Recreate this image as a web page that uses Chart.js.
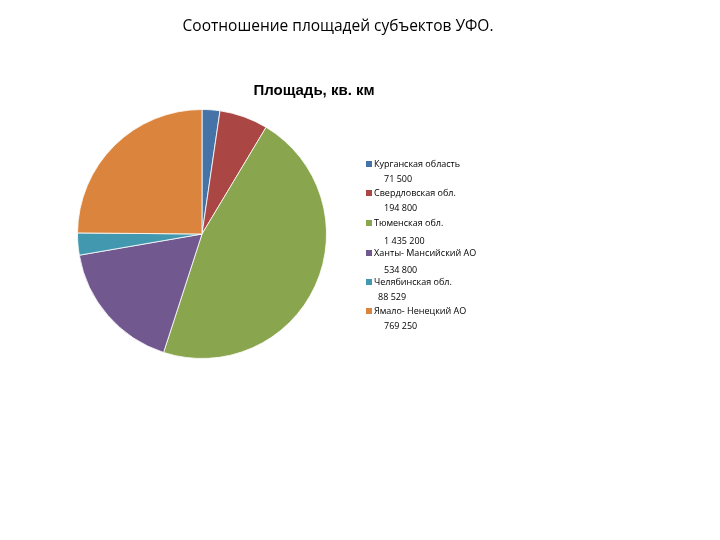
<!DOCTYPE html>
<html>
<head>
<meta charset="utf-8">
<script src="https://cdn.jsdelivr.net/npm/chart.js@4/dist/chart.umd.min.js"></script>
<style>
html, body { margin: 0; padding: 0; background: #fff; }
#wrap { position: relative; width: 720px; height: 540px; }
</style>
</head>
<body>
<div id="wrap"><canvas id="pie" width="720" height="540"></canvas></div>
<script>
// Data
const regions = ["Курганская область", "Свердловская обл.", "Тюменская обл.", "Ханты- Мансийский АО", "Челябинская обл.", "Ямало- Ненецкий АО"];
const areas = [71500, 194800, 1435200, 534800, 88529, 769250];
const areaLabels = ["71 500", "194 800", "1 435 200", "534 800", "88 529", "769 250"];
const colors = ["#4572A7", "#AA4643", "#89A54E", "#71588F", "#4198AF", "#DB843D"];
const pageTitle = "Соотношение площадей субъектов УФО.";
const chartTitle = "Площадь, кв. км";

// titles + legend drawn by hand (legend has the value on a second line)
const decor = {
    id: "decor",
    afterDraw(chart) {
        const ctx = chart.ctx;
        ctx.save();
        ctx.fillStyle = "#000";
        ctx.textBaseline = "middle";
        ctx.textAlign = "center";
        ctx.font = "15.5px 'Open Sans', sans-serif";
        ctx.fillText(pageTitle, 338, 27);
        ctx.font = "bold 15px 'Liberation Sans', sans-serif";
        ctx.fillText(chartTitle, 314, 91);

        ctx.textAlign = "left";
        ctx.font = "9px 'Open Sans', sans-serif";
        const rowY = [164, 193, 223, 253, 282, 311];
        const valY = [179, 208, 241, 270, 297, 326];
        const valX = [384, 384, 384, 384, 378, 384];
        regions.forEach((name, i) => {
            ctx.fillStyle = colors[i];
            ctx.fillRect(366, rowY[i] - 3, 6, 6);
            ctx.fillStyle = "#000";
            ctx.fillText(name, 374, rowY[i]);
            ctx.fillText(areaLabels[i], valX[i], valY[i]);
        });
        ctx.restore();
    }
};

new Chart(document.getElementById("pie"), {
    type: "pie",
    data: {
        labels: regions,
        datasets: [{
            data: areas,
            backgroundColor: colors,
            borderColor: "rgba(255,255,255,0.8)",
            borderWidth: 1
        }]
    },
    options: {
        responsive: false,
        animation: false,
        layout: { padding: { left: 77, right: 393, top: 109, bottom: 181 } },
        plugins: {
            legend: { display: false },
            title: { display: false },
            tooltip: { enabled: false }
        }
    },
    plugins: [decor]
});
</script>
</body>
</html>
